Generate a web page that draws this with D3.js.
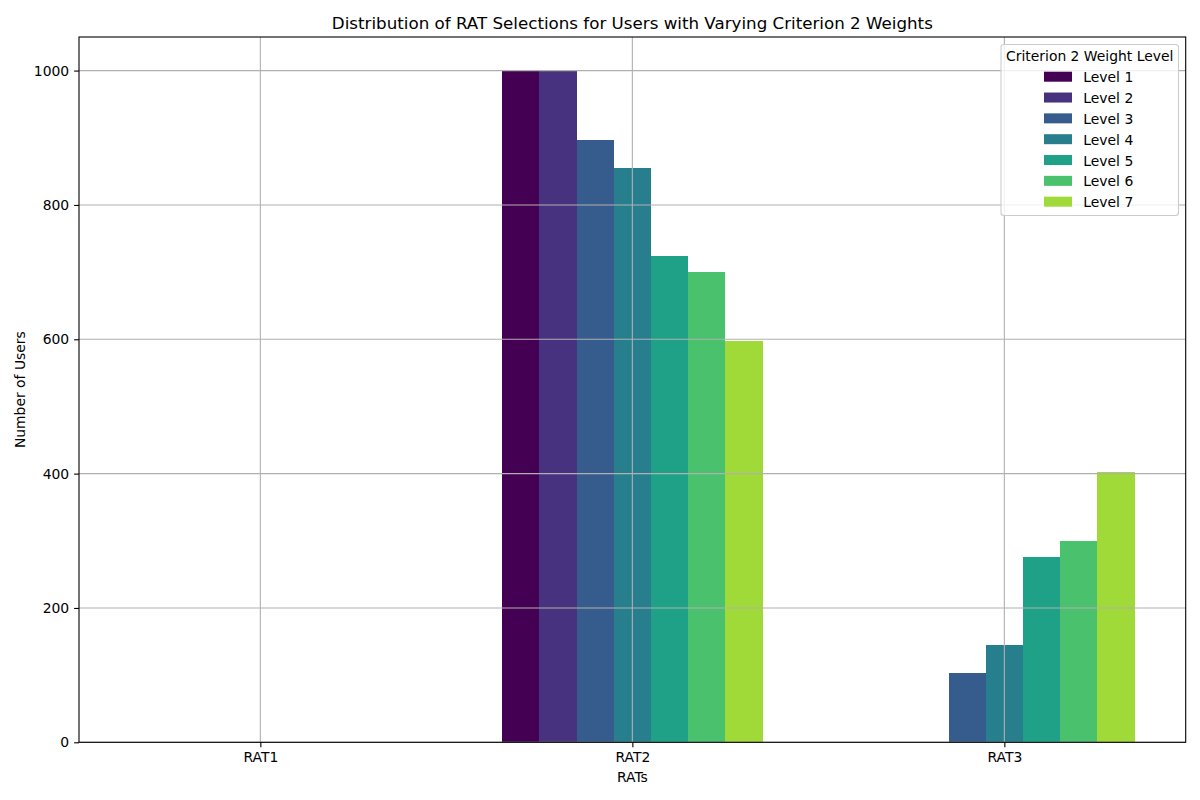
<!DOCTYPE html>
<html>
<head>
<meta charset="utf-8">
<script src="https://cdn.jsdelivr.net/npm/d3@7"></script>
<style>
  body { margin: 0; background: #fff; }
  svg text { font-family: "DejaVu Sans", sans-serif; fill: #000; }
</style>
</head>
<body>
<div id="chart"></div>
<script>
// data
var rats = ["RAT1", "RAT2", "RAT3"]
var levels = ["Level 1", "Level 2", "Level 3", "Level 4", "Level 5", "Level 6", "Level 7"]
// users per RAT, one array per weight level
var rat1_users = [0, 0, 0, 0, 0, 0, 0]
var rat2_users = [1000, 1000, 897, 855, 724, 700, 597]
var rat3_users = [0, 0, 103, 145, 276, 300, 403]
var y_ticks = [0, 200, 400, 600, 800, 1000]

var width = 1200, height = 800
var margin = {left: 79, right: 1200 - 1185.7, top: 37, bottom: 800 - 742.3}

var svg = d3.select("#chart").append("svg")
  .attr("width", width)
  .attr("height", height)

var plot_w = width - margin.left - margin.right,
    plot_h = height - margin.top - margin.bottom

var bar_space = svg.append("g"),
    grid_space = svg.append("g"),
    axis_space = svg.append("g"),
    legend_space = svg.append("g")

var x = d3.scaleLinear()
  .domain([-0.4875, 2.4875])
  .range([margin.left, margin.left + plot_w])
var y = d3.scaleLinear()
  .domain([0, 1050])
  .range([margin.top + plot_h, margin.top])

var color = function (i) { return d3.interpolateViridis(i / levels.length) }

var table = [rat1_users, rat2_users, rat3_users]
var bar_w = 0.1
var bars = []
for (var r = 0; r < rats.length; r++) {
  for (var l = 0; l < levels.length; l++) {
    bars.push({
      "rat": r,
      "level": l,
      "value": table[r][l]
    })
  }
}

// Bars
bar_space.selectAll("rect").data(bars).enter().append("rect")
  .attr("x", function (d) { return x(d.rat - levels.length * bar_w / 2 + d.level * bar_w) })
  .attr("width", function (d) { return x(bar_w) - x(0) })
  .attr("y", function (d) { return y(d.value) })
  .attr("height", function (d) { return y(0) - y(d.value) })
  .attr("fill", function (d) { return color(d.level) })
  .attr("shape-rendering", "crispEdges")

// Grid, drawn over the bars like the reference
grid_space.selectAll("line.gy").data(y_ticks).enter().append("line")
  .attr("x1", margin.left).attr("x2", margin.left + plot_w)
  .attr("y1", function (d) { return y(d) }).attr("y2", function (d) { return y(d) })
  .attr("stroke", "#b0b0b0").attr("stroke-width", 1.1)
grid_space.selectAll("line.gx").data(d3.range(rats.length)).enter().append("line")
  .attr("y1", margin.top).attr("y2", margin.top + plot_h)
  .attr("x1", function (d) { return x(d) }).attr("x2", function (d) { return x(d) })
  .attr("stroke", "#b0b0b0").attr("stroke-width", 1.1)

// Axes
axis_space.append("g")
  .attr("transform", "translate(0," + (margin.top + plot_h) + ")")
  .call(d3.axisBottom(x).tickValues(d3.range(rats.length))
    .tickFormat(function (d) { return rats[d] })
    .tickSizeInner(4.9).tickSizeOuter(0).tickPadding(4.9))
axis_space.append("g")
  .attr("transform", "translate(" + margin.left + ",0)")
  .call(d3.axisLeft(y).tickValues(y_ticks).tickFormat(d3.format("d"))
    .tickSizeInner(4.9).tickSizeOuter(0).tickPadding(4.9))
axis_space.selectAll(".domain").remove()
axis_space.selectAll(".tick line").attr("stroke", "#000").attr("stroke-width", 1.1)
axis_space.selectAll(".tick text")
  .style("font-family", "DejaVu Sans")
  .style("font-size", "13.9px")
  .attr("fill", "#000")

// Frame
axis_space.append("rect")
  .attr("x", margin.left).attr("y", margin.top)
  .attr("width", plot_w).attr("height", plot_h)
  .attr("fill", "none").attr("stroke", "#000").attr("stroke-width", 1.1)

// Titles
svg.append("text")
  .attr("x", margin.left + plot_w / 2).attr("y", 29)
  .attr("text-anchor", "middle")
  .style("font-size", "16.7px")
  .text("Distribution of RAT Selections for Users with Varying Criterion 2 Weights")
svg.append("text")
  .attr("x", margin.left + plot_w / 2).attr("y", 782)
  .attr("text-anchor", "middle")
  .style("font-size", "13.9px")
  .text("RATs")
svg.append("text")
  .attr("transform", "translate(25," + (margin.top + plot_h / 2) + ") rotate(-90)")
  .attr("text-anchor", "middle")
  .style("font-size", "13.9px")
  .text("Number of Users")

// Legend
legend_space.append("rect")
  .attr("x", 1001).attr("y", 44.5)
  .attr("width", 177.5).attr("height", 171)
  .attr("rx", 3).attr("ry", 3)
  .attr("fill", "#fff").attr("fill-opacity", 0.8)
  .attr("stroke", "#cccccc").attr("stroke-width", 1.1)
legend_space.append("text")
  .attr("x", 1089.7).attr("y", 61)
  .attr("text-anchor", "middle")
  .style("font-size", "13.9px")
  .text("Criterion 2 Weight Level")
var entry = legend_space.selectAll("g.entry").data(levels).enter().append("g")
  .attr("transform", function (d, i) { return "translate(0," + (i * 20.83) + ")" })
entry.append("rect")
  .attr("x", 1044).attr("y", 71.7)
  .attr("width", 28).attr("height", 10)
  .attr("fill", function (d, i) { return color(i) })
entry.append("text")
  .attr("x", 1083.3).attr("y", 82.3)
  .style("font-size", "13.9px")
  .text(function (d) { return d })
</script>
</body>
</html>
